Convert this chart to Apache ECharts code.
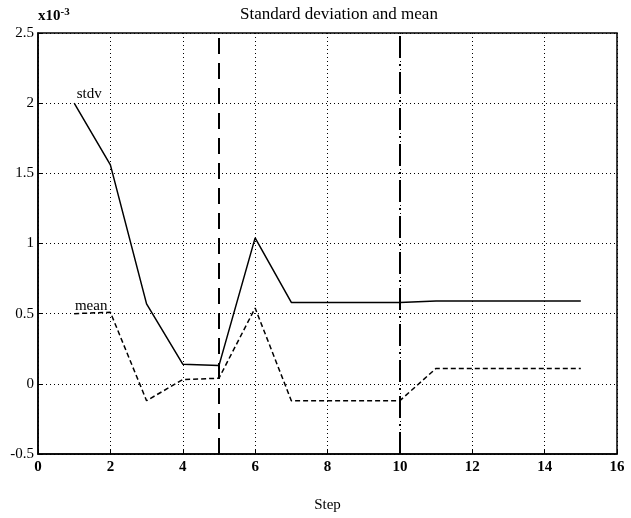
<!DOCTYPE html>
<html>
<head>
<meta charset="utf-8">
<script src="https://cdn.jsdelivr.net/npm/echarts@6/dist/echarts.min.js"></script>
<style>
  html, body { margin: 0; padding: 0; background: #fff; }
  #chart { width: 631px; height: 518px; }
</style>
</head>
<body>
<div id="chart"></div>
<script>
// Step numbers and the two statistics (in units of 1e-3)
const steps = [1, 2, 3, 4, 5, 6, 7, 8, 9, 10, 11, 12, 13, 14, 15];
const stdvValues = [2.0, 1.56, 0.57, 0.14, 0.13, 1.04, 0.58, 0.58, 0.58, 0.58, 0.59, 0.59, 0.59, 0.59, 0.59];
const meanValues = [0.50, 0.51, -0.12, 0.03, 0.04, 0.54, -0.12, -0.12, -0.12, -0.12, 0.11, 0.11, 0.11, 0.11, 0.11];

// Phase boundaries drawn as vertical markers
const dashedStep = 5;
const dashDotStep = 10;

const serif = 'Liberation Serif, Times New Roman, serif';

const chart = echarts.init(document.getElementById('chart'), null, { renderer: 'canvas' });

function pairs(ys) {
  return steps.map((s, i) => [s, ys[i]]);
}

// Series names are written next to the first point of each curve
const stdvData = pairs(stdvValues);
stdvData[0] = {
  value: stdvData[0],
  label: { show: true, formatter: 'stdv', position: 'top', offset: [15, 3],
           color: '#000', fontFamily: serif, fontSize: 15 }
};
const meanData = pairs(meanValues);
meanData[0] = {
  value: meanData[0],
  label: { show: true, formatter: 'mean', position: 'top', offset: [17, 5],
           color: '#000', fontFamily: serif, fontSize: 15 }
};

chart.setOption({
  animation: false,
  backgroundColor: '#fff',
  title: {
    text: 'Standard deviation and mean',
    left: 334, top: 1, textAlign: 'center',
    textStyle: { fontFamily: serif, fontSize: 17, fontWeight: 'normal', color: '#000' }
  },
  grid: {
    left: 38, right: 14, top: 33, bottom: 63,
    show: true, borderColor: '#000', borderWidth: 1.5, backgroundColor: 'transparent'
  },
  xAxis: {
    type: 'value', min: 0, max: 16, interval: 2,
    name: 'Step', nameLocation: 'middle', nameGap: 44,
    nameTextStyle: { fontFamily: serif, fontSize: 15, color: '#000' },
    axisLine: { show: true, onZero: false, lineStyle: { color: '#000', width: 1.5 } },
    axisTick: { show: true, inside: true, length: 5, lineStyle: { color: '#000' } },
    axisLabel: { fontFamily: serif, fontSize: 15, fontWeight: 'bold', color: '#000', margin: 6 },
    splitLine: { show: true, lineStyle: { color: '#000', type: [1, 3], width: 1 } }
  },
  yAxis: {
    type: 'value', min: -0.5, max: 2.5, interval: 0.5,
    name: 'x10{sup|-3}', nameLocation: 'end', nameGap: 7,
    nameTextStyle: {
      fontFamily: serif, fontSize: 15, fontWeight: 'bold', color: '#000', align: 'left',
      rich: { sup: { fontFamily: serif, fontSize: 11, fontWeight: 'bold', color: '#000', verticalAlign: 'top', padding: [0, 0, 8, 0] } }
    },
    axisLine: { show: true, onZero: false, lineStyle: { color: '#000', width: 1.5 } },
    axisTick: { show: true, inside: true, length: 5, lineStyle: { color: '#000' } },
    axisLabel: { fontFamily: serif, fontSize: 15, color: '#000', margin: 4 },
    splitLine: { show: true, lineStyle: { color: '#000', type: [1, 3], width: 1 } }
  },
  series: [
    {
      name: 'stdv', type: 'line', data: stdvData,
      symbol: 'circle', symbolSize: 0, showSymbol: true,
      lineStyle: { color: '#000', width: 1.5 },
      itemStyle: { color: '#000' },
      z: 5
    },
    {
      name: 'mean', type: 'line', data: meanData,
      symbol: 'circle', symbolSize: 0, showSymbol: true,
      lineStyle: { color: '#000', width: 1.5, type: [5, 3] },
      itemStyle: { color: '#000' },
      z: 5
    },
    {
      name: 'phase markers', type: 'line', data: [],
      markLine: {
        silent: true, symbol: ['none', 'none'], label: { show: false },
        data: [
          { xAxis: dashedStep, lineStyle: { color: '#000', width: 2, type: [16, 9] } },
          { xAxis: dashDotStep, lineStyle: { color: '#000', width: 2, type: [22, 6, 2, 6] } }
        ]
      }
    }
  ]
});
</script>
</body>
</html>
